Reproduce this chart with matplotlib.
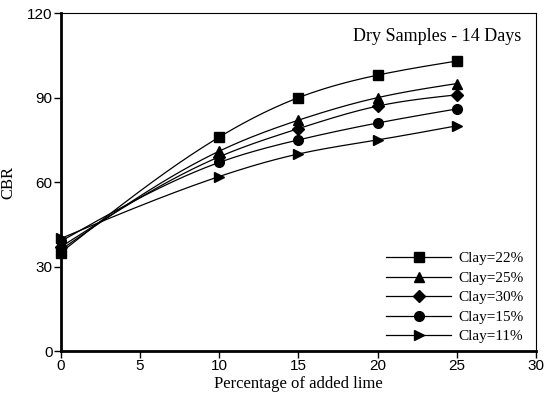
import numpy as np
import matplotlib
matplotlib.use("Agg")
from matplotlib import pyplot as plt

lime = [0, 10, 15, 20, 25]
clay22 = [35, 76, 90, 98, 103]
clay25 = [36, 71, 82, 90, 95]
clay30 = [37, 69, 79, 87, 91]
clay15 = [39, 67, 75, 81, 86]
clay11 = [40, 62, 70, 75, 80]
labels = ["Clay=22%", "Clay=25%", "Clay=30%", "Clay=15%", "Clay=11%"]
markers = ["s", "^", "D", "o", ">"]

# natural cubic spline through the points, only to draw the smooth line
def spline(x, y, n=200):
	x = np.asarray(x, float); y = np.asarray(y, float)
	k = len(x); h = np.diff(x)
	A = np.zeros((k, k)); b = np.zeros(k)
	A[0, 0] = A[-1, -1] = 1
	for i in range(1, k-1):
		A[i, i-1] = h[i-1]; A[i, i] = 2*(h[i-1]+h[i]); A[i, i+1] = h[i]
		b[i] = 6*((y[i+1]-y[i])/h[i] - (y[i]-y[i-1])/h[i-1])
	M = np.linalg.solve(A, b)
	xs = np.linspace(x[0], x[-1], n)
	j = np.clip(np.searchsorted(x, xs) - 1, 0, k-2)
	t0 = x[j+1]-xs; t1 = xs-x[j]; hj = h[j]
	ys = (M[j]*t0**3 + M[j+1]*t1**3)/(6*hj) + (y[j]/hj - M[j]*hj/6)*t0 + (y[j+1]/hj - M[j+1]*hj/6)*t1
	return xs, ys

fig = plt.figure(figsize=(5.48, 3.99), dpi=100)
ax = fig.add_axes([0.111, 0.120, 0.867, 0.847])

serif = "Liberation Serif"
sans = "Liberation Sans"

for ys, lab, m in zip([clay22, clay25, clay30, clay15, clay11], labels, markers):
	sx, sy = spline(lime, ys)
	ax.plot(sx, sy, color="black", lw=0.9)
	ms = 6 if m == "D" else 7
	ax.plot(lime, ys, ls="none", marker=m, color="black", ms=ms, clip_on=False, zorder=5)
	ax.plot([], [], color="black", lw=0.9, marker=m, ms=ms, label=lab)

ax.set_xlim(0, 30)
ax.set_ylim(0, 120)
ax.set_xticks([0, 5, 10, 15, 20, 25, 30])
ax.set_yticks([0, 30, 60, 90, 120])
ax.tick_params(direction="out", length=5, width=1, pad=1, labelsize=11)
for t in ax.get_xticklabels() + ax.get_yticklabels():
	t.set_fontfamily(sans)
ax.spines["left"].set_linewidth(2)
ax.spines["bottom"].set_linewidth(2)
ax.spines["top"].set_linewidth(0.8)
ax.spines["right"].set_linewidth(0.8)

ax.set_xlabel("Percentage of added lime", fontfamily=serif, fontsize=12, labelpad=2)
ax.set_ylabel("CBR", fontfamily=serif, fontsize=12, labelpad=8)
ax.text(0.97, 0.955, "Dry Samples - 14 Days", transform=ax.transAxes, ha="right", va="top",
	fontfamily=serif, fontsize=13)

leg = ax.legend(loc="lower right", frameon=False, handlelength=4.2, prop={"family": serif, "size": 11},
	labelspacing=0.38, handletextpad=0.5, bbox_to_anchor=(0.99, 0.0), borderaxespad=0.1)

fig.savefig("out.png", dpi=100)
